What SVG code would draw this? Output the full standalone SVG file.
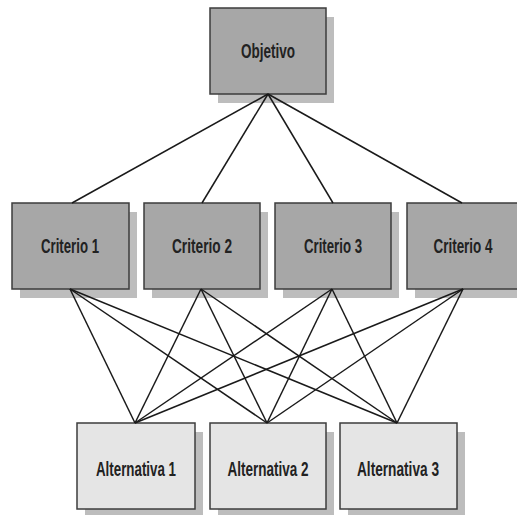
<svg xmlns="http://www.w3.org/2000/svg" width="517" height="515" viewBox="0 0 517 515">
<style>
.sh{fill:#bdbdbd}
.dk{fill:#a7a7a7;stroke:#3c3c3c;stroke-width:1.5}
.lt{fill:#e5e5e5;stroke:#3c3c3c;stroke-width:1.5}
text{font-family:"Liberation Sans",Arial,sans-serif;font-weight:bold;font-size:20px;fill:#222;text-anchor:middle}
.c line{stroke:#1a1a1a;stroke-width:1.5}
</style>
<rect width="517" height="515" fill="#fff"/>
<g id="objetivo"><rect class="sh" x="218" y="17" width="116" height="86"/><rect class="dk" x="210" y="8" width="116" height="86"/><text x="268" y="58" textLength="54" lengthAdjust="spacingAndGlyphs">Objetivo</text></g>
<g id="criterio1"><rect class="sh" x="20" y="212" width="117" height="86"/><rect class="dk" x="12" y="203" width="117" height="86"/><text x="70" y="253" textLength="58" lengthAdjust="spacingAndGlyphs">Criterio 1</text></g>
<g id="criterio2"><rect class="sh" x="152" y="212" width="116" height="86"/><rect class="dk" x="144" y="203" width="116" height="86"/><text x="202" y="253" textLength="60" lengthAdjust="spacingAndGlyphs">Criterio 2</text></g>
<g id="criterio3"><rect class="sh" x="283" y="212" width="116" height="86"/><rect class="dk" x="275" y="203" width="116" height="86"/><text x="333" y="253" textLength="58" lengthAdjust="spacingAndGlyphs">Criterio 3</text></g>
<g id="criterio4"><rect class="sh" x="415" y="212" width="117" height="86"/><rect class="dk" x="407" y="203" width="117" height="86"/><text x="463" y="253" textLength="59" lengthAdjust="spacingAndGlyphs">Criterio 4</text></g>
<g id="alternativa1"><rect class="sh" x="85" y="432" width="118" height="86"/><rect class="lt" x="77" y="423" width="118" height="86"/><text x="136" y="476" textLength="80" lengthAdjust="spacingAndGlyphs">Alternativa 1</text></g>
<g id="alternativa2"><rect class="sh" x="218" y="432" width="116" height="86"/><rect class="lt" x="210" y="423" width="116" height="86"/><text x="268" y="476" textLength="81" lengthAdjust="spacingAndGlyphs">Alternativa 2</text></g>
<g id="alternativa3"><rect class="sh" x="348" y="432" width="117" height="86"/><rect class="lt" x="340" y="423" width="117" height="86"/><text x="398" y="476" textLength="82" lengthAdjust="spacingAndGlyphs">Alternativa 3</text></g>
<g class="c" id="connectors">
<line x1="268" y1="94" x2="72" y2="203"/>
<line x1="268" y1="94" x2="202" y2="203"/>
<line x1="268" y1="94" x2="333" y2="203"/>
<line x1="268" y1="94" x2="462" y2="203"/>
<line x1="70" y1="289" x2="135" y2="423"/>
<line x1="70" y1="289" x2="267" y2="423"/>
<line x1="70" y1="289" x2="397" y2="423"/>
<line x1="201" y1="289" x2="135" y2="423"/>
<line x1="201" y1="289" x2="267" y2="423"/>
<line x1="201" y1="289" x2="397" y2="423"/>
<line x1="332" y1="289" x2="135" y2="423"/>
<line x1="332" y1="289" x2="267" y2="423"/>
<line x1="332" y1="289" x2="397" y2="423"/>
<line x1="463" y1="289" x2="135" y2="423"/>
<line x1="463" y1="289" x2="267" y2="423"/>
<line x1="463" y1="289" x2="397" y2="423"/>
</g>
</svg>
